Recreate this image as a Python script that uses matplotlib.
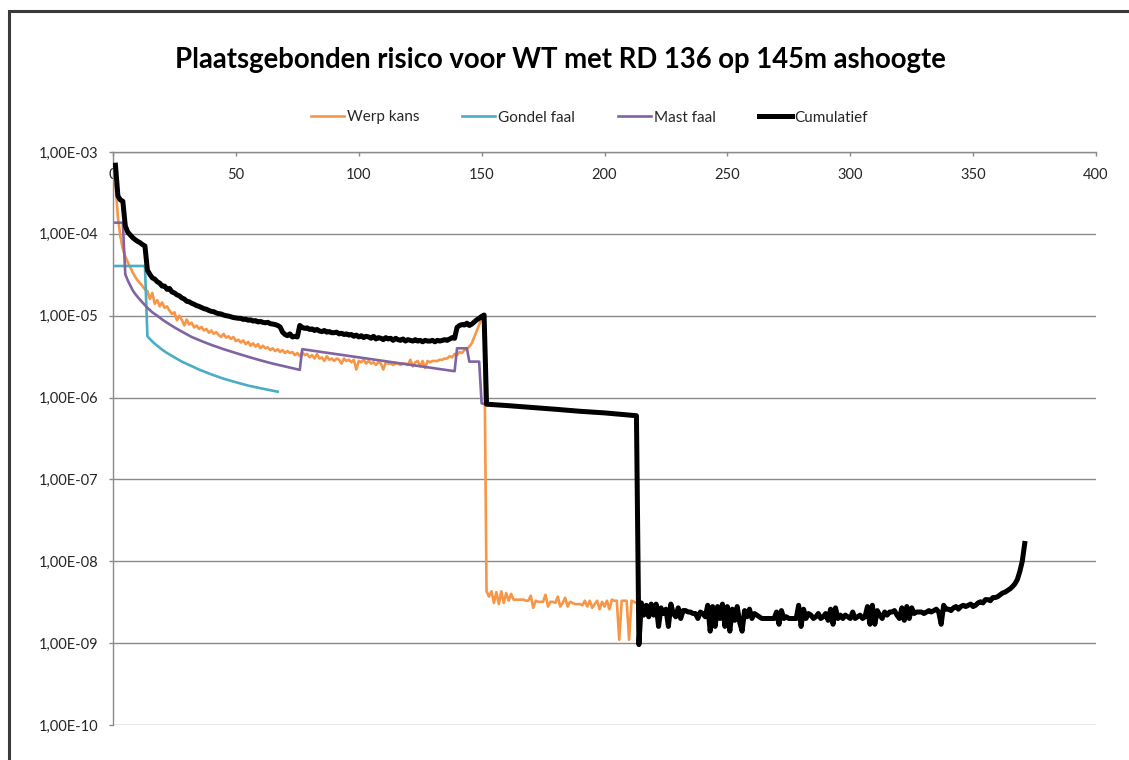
import matplotlib
matplotlib.use("Agg")
import matplotlib.pyplot as plt
from matplotlib.patches import Rectangle
import numpy as np

plt.rcParams['font.family'] = ['Lato', 'DejaVu Sans']

# ---------------- text ----------------
title = "Plaatsgebonden risico voor WT met RD 136 op 145m ashoogte"
series_names = ["Werp kans", "Gondel faal", "Mast faal", "Cumulatief"]
xticks = [0, 50, 100, 150, 200, 250, 300, 350, 400]
yticks = [1e-10, 1e-9, 1e-8, 1e-7, 1e-6, 1e-5, 1e-4, 1e-3]
ytick_labels = ["1,00E-10", "1,00E-09", "1,00E-08", "1,00E-07",
                "1,00E-06", "1,00E-05", "1,00E-04", "1,00E-03"]

# ---------------- data ----------------
# Werp kans, distance 1..151 m (values x 1e-6)
werp_near_x = list(range(1, 152))
werp_near_e6 = [
    400, 160, 93, 65, 53, 45, 39, 34, 30, 27,
    25, 23, 21, 20, 16, 19, 14, 15.5, 13, 14.5,
    12.5, 13, 11.5, 10.5, 11, 8.8, 10, 8.9, 7.6, 9.0,
    7.8, 8.2, 7.2, 7.6, 6.9, 7.3, 6.6, 6.9, 6.2, 6.6,
    6.0, 6.3, 5.8, 5.5, 6.0, 5.4, 5.6, 5.2, 5.5, 4.9,
    5.1, 4.7, 5.0, 4.5, 4.8, 4.3, 4.6, 4.2, 4.5, 4.0,
    4.3, 4.0, 4.1, 3.8, 4.0, 3.7, 3.9, 3.6, 3.8, 3.5,
    3.7, 3.5, 3.6, 3.3, 3.5, 3.2, 3.6, 3.3, 3.4, 3.1,
    3.3, 3.0, 3.4, 3.0, 3.1, 2.8, 3.2, 2.9, 3.0, 2.8,
    3.0, 2.9, 2.6, 3.0, 2.8, 2.9, 2.7, 2.9, 2.2, 2.8,
    2.7, 2.9, 2.6, 2.8, 2.6, 2.7, 2.5, 2.7, 2.6, 2.2,
    2.7, 2.6, 2.6, 2.5, 2.6, 2.6, 2.5, 2.6, 2.6, 2.5,
    2.9, 2.4, 2.7, 2.8, 2.4, 2.8, 2.3, 2.8, 2.7, 2.8,
    2.8, 2.8, 2.9, 2.9, 3.0, 3.0, 3.2, 3.1, 3.4, 3.3,
    3.6, 3.5, 3.8, 3.9, 4.2, 4.6, 5.5, 6.5, 7.8, 9.2,
    10.2,
]
# Werp kans, distance 152..213 m (values x 1e-9)
werp_far_x = list(range(152, 214))
werp_far_e9 = [
    4.3, 3.7, 4.3, 3.1, 4.2, 3.0, 4.3, 3.1, 4.1, 3.3,
    4.0, 3.4, 3.4, 3.4, 3.4, 3.4, 3.3, 3.3, 3.8, 2.7,
    3.3, 3.2, 3.2, 3.2, 3.9, 2.8, 3.2, 3.2, 3.1, 3.7,
    2.8, 3.1, 3.6, 2.8, 3.2, 3.1, 3.0, 3.0, 3.0, 2.9,
    3.3, 2.8, 3.3, 2.7, 3.0, 3.3, 2.6, 3.2, 2.8, 3.3,
    2.6, 3.4, 3.3, 3.3, 1.1, 3.3, 3.3, 3.3, 1.1, 3.3,
    3.2, 3.1,
]

# Gondel faal
gondel_x = [1, 13, 14, 15, 16, 17, 18, 20, 22, 25, 28, 31, 35, 40, 45, 50, 55, 60, 67]
gondel_y = [4.05e-5, 4.05e-5, 5.6e-6, 5.2e-6, 4.85e-6, 4.55e-6, 4.3e-6, 3.85e-6,
            3.5e-6, 3.1e-6, 2.75e-6, 2.5e-6, 2.2e-6, 1.92e-6, 1.7e-6, 1.54e-6,
            1.4e-6, 1.3e-6, 1.18e-6]

# Mast faal
mast_x = [1, 4, 5, 6, 7, 8, 9, 10, 12, 14, 16, 18, 20, 22, 25, 28, 32, 36, 40, 45,
          50, 55, 60, 65, 70, 76, 77, 139, 140, 144, 145, 149, 150, 152]
mast_y = [1.37e-4, 1.37e-4, 3.2e-5, 2.7e-5, 2.35e-5, 2.05e-5, 1.85e-5, 1.7e-5,
          1.45e-5, 1.25e-5, 1.1e-5, 1.0e-5, 9.0e-6, 8.2e-6, 7.2e-6, 6.4e-6,
          5.5e-6, 4.9e-6, 4.4e-6, 3.9e-6, 3.5e-6, 3.15e-6, 2.85e-6, 2.6e-6,
          2.4e-6, 2.18e-6, 3.9e-6, 2.1e-6, 4.0e-6, 4.0e-6, 2.75e-6, 2.75e-6,
          8.5e-7, 8.3e-7]

# Cumulatief, distance 1..151 m (values x 1e-6)
cum_near_x = list(range(1, 152))
cum_near_e6 = [
    690, 290, 260, 250, 125, 105, 97, 90, 85, 81,
    78, 74, 71, 36, 32, 29, 28, 26, 25, 23,
    23, 21, 21.5, 19.5, 19, 18, 17.5, 16.5, 16, 15,
    14.8, 14.2, 13.8, 13.3, 13, 12.6, 12.2, 12, 11.6, 11.3,
    11.2, 10.8, 10.6, 10.5, 10.2, 10.0, 9.9, 9.7, 9.5, 9.4,
    9.3, 9.3, 9.0, 9.1, 8.8, 8.9, 8.6, 8.7, 8.4, 8.5,
    8.3, 8.2, 8.3, 8.0, 7.9, 7.8, 7.6, 7.3, 6.3, 5.9,
    5.7, 6.0, 5.5, 5.6, 5.5, 7.6, 7.2, 7.0, 7.1, 6.8,
    6.9, 6.6, 6.8, 6.5, 6.4, 6.6, 6.3, 6.4, 6.2, 6.2,
    6.3, 6.0, 6.1, 5.9, 6.0, 5.8, 5.9, 5.6, 5.8, 5.5,
    5.7, 5.4, 5.6, 5.5, 5.3, 5.6, 5.2, 5.4, 5.3, 5.1,
    5.4, 5.2, 5.3, 5.0, 5.3, 5.1, 5.0, 5.2, 4.9, 5.1,
    5.0, 4.9, 5.1, 4.9, 5.0, 4.8, 5.0, 4.9, 4.9, 5.0,
    4.8, 5.0, 4.9, 5.0, 5.1, 5.0, 5.2, 5.4, 5.3, 7.2,
    7.6, 7.8, 7.7, 8.1, 7.6, 7.9, 8.4, 8.9, 9.3, 9.8,
    10.2,
]
# Cumulatief, distance 152..213 m
cum_mid_x = [152, 160, 170, 180, 190, 200, 213]
cum_mid_y = [8.3e-7, 8.0e-7, 7.6e-7, 7.2e-7, 6.8e-7, 6.5e-7, 6.0e-7]
# Cumulatief, distance 214..371 m (values x 1e-9)
cum_far_x = list(range(214, 372))
cum_far_e9 = [
    0.96, 3.1, 2.2, 2.9, 2.1, 3.0, 2.2, 3.0, 1.6, 2.7,
    2.3, 2.6, 1.6, 3.0, 2.3, 2.1, 2.7, 2.0, 2.5, 2.5,
    2.4, 2.4, 2.3, 2.3, 2.0, 2.4, 2.3, 2.1, 2.9, 1.4,
    2.8, 1.6, 2.8, 2.0, 3.0, 1.6, 2.8, 1.4, 2.6, 1.9,
    2.8, 1.8, 1.4, 2.5, 2.1, 2.6, 2.0, 2.3, 2.2, 2.1,
    2.0, 2.0, 2.0, 2.0, 2.0, 2.0, 2.4, 1.7, 2.5, 2.0,
    2.1, 2.0, 2.0, 2.0, 2.0, 2.9, 1.6, 2.6, 2.0, 2.3,
    2.2, 2.0, 2.1, 2.3, 2.0, 2.1, 2.3, 1.9, 2.6, 1.7,
    2.7, 2.0, 2.2, 2.0, 2.2, 2.1, 2.0, 2.4, 2.0, 2.1,
    2.2, 2.0, 2.1, 2.8, 1.7, 2.9, 1.7, 2.5, 2.2, 2.0,
    2.4, 2.2, 2.4, 2.4, 2.5, 2.2, 2.0, 2.7, 1.9, 2.8,
    2.0, 2.7, 2.3, 2.4, 2.4, 2.4, 2.3, 2.4, 2.5, 2.4,
    2.5, 2.6, 2.4, 1.7, 2.9, 2.6, 2.6, 2.5, 2.7, 2.8,
    2.6, 2.8, 2.9, 2.8, 2.9, 3.0, 2.8, 2.9, 3.1, 3.2,
    3.1, 3.4, 3.4, 3.3, 3.6, 3.6, 3.7, 3.9, 4.1, 4.2,
    4.4, 4.6, 4.9, 5.3, 6.0, 7.5, 10.0, 16.5,
]

# ---------------- assemble series ----------------
werp_x = werp_near_x + werp_far_x
werp_y = list(np.array(werp_near_e6) * 1e-6) + list(np.array(werp_far_e9) * 1e-9)
cum_x = cum_near_x + cum_mid_x + cum_far_x
cum_y = list(np.array(cum_near_e6) * 1e-6) + cum_mid_y + list(np.array(cum_far_e9) * 1e-9)

# ---------------- figure ----------------
W, H = 1129, 760
fig = plt.figure(figsize=(W / 100, H / 100), dpi=100)
fig.patch.set_facecolor("white")

# outer chart frame (clipped at the right and bottom)
fig.add_artist(Rectangle((9 / W, -0.2), 1.5, 1 - 11.5 / H + 0.2,
                         transform=fig.transFigure, fill=False,
                         edgecolor="#3a3a3a", linewidth=2.2, clip_on=False))

ax = fig.add_axes([113 / W, 1 - 725 / H, (1096 - 113) / W, (725 - 152) / H])
ax.set_yscale("log")
ax.set_xlim(0, 400)
ax.set_ylim(1e-10, 1e-3)

grid_c = "#8a8a8a"
colors = ["#F79646", "#4BACC6", "#8064A2", "#000000"]

l1, = ax.plot(werp_x, werp_y, color=colors[0], lw=1.9, solid_joinstyle="round", zorder=3)
l2, = ax.plot(gondel_x, gondel_y, color=colors[1], lw=1.9, zorder=4)
l3, = ax.plot(mast_x, mast_y, color=colors[2], lw=1.9, zorder=5)
l4, = ax.plot(cum_x, cum_y, color=colors[3], lw=3.6, solid_joinstyle="round", zorder=6)

# axes styling
for s in ["right", "bottom"]:
    ax.spines[s].set_visible(False)
for s in ["left", "top"]:
    ax.spines[s].set_color(grid_c)
    ax.spines[s].set_linewidth(1.0)

ax.set_yticks(yticks)
ax.set_yticklabels(ytick_labels)
ax.yaxis.set_minor_locator(matplotlib.ticker.NullLocator())
ax.tick_params(axis="y", which="major", direction="out", length=3.2, width=1.0,
               color=grid_c, labelsize=10.5, labelcolor="#262626", pad=7.5)
ax.grid(axis="y", which="major", color=grid_c, linewidth=1.0)
ax.set_axisbelow(True)

ax.set_xticks(xticks)
ax.set_xticklabels([str(t) for t in xticks])
ax.xaxis.set_ticks_position("top")
ax.tick_params(axis="x", which="major", direction="in", length=3.0, width=1.0,
               color=grid_c, labelsize=10.5, labelcolor="#262626",
               top=True, bottom=False, labeltop=True, labelbottom=False, pad=-21.5)

# title
fig.text(560 / W, 1 - 68 / H, title, ha="center", va="baseline",
         fontsize=19.8, fontweight="bold", color="#000000")

# legend
fig.legend([l1, l2, l3, l4], series_names, loc="center",
           bbox_to_anchor=(589.5 / W, 1 - 117.5 / H), ncol=4, frameon=False,
           fontsize=11, handlelength=2.16, handletextpad=0.2, columnspacing=2.8,
           borderpad=0, borderaxespad=0, labelcolor="#262626")

fig.savefig("out.png", dpi=100, facecolor="white")
